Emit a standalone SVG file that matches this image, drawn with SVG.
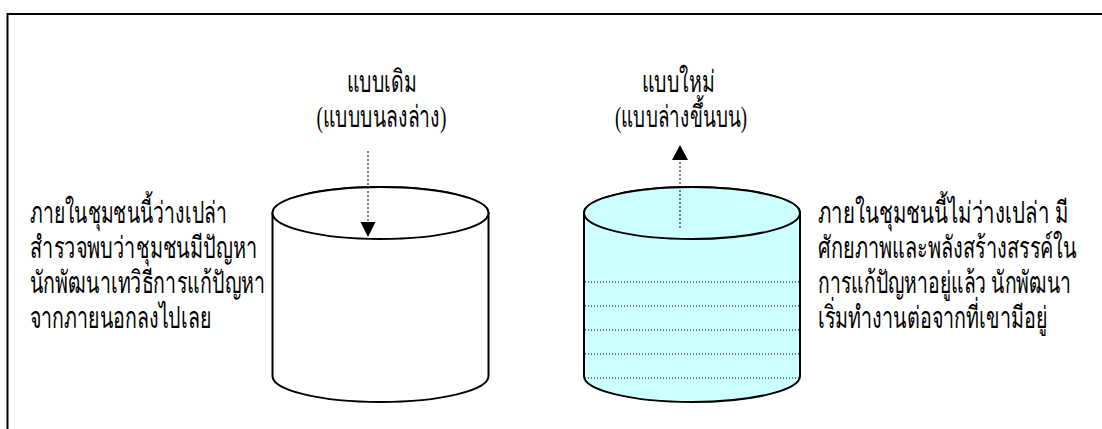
<svg xmlns="http://www.w3.org/2000/svg" width="1102" height="429" viewBox="0 0 1102 429">
<style>
.t{font-family:"Liberation Serif","Noto Sans",serif;font-size:21px;fill:#000}
.cyl{stroke:#000;stroke-width:2}
.dot{stroke:#000;stroke-width:1;stroke-dasharray:1 2;fill:none}
</style>
<rect x="0" y="0" width="1102" height="429" fill="#fff"/>
<rect x="7.5" y="14" width="1110" height="430" fill="none" stroke="#000" stroke-width="2"/>
<g id="old-model">
<path class="cyl" fill="#fff" d="M272.5,213 L272.5,376 A108,26 0 0 0 488.5,376 L488.5,213 A108,26 0 0 0 272.5,213 Z"/>
<ellipse class="cyl" fill="#fff" cx="380.5" cy="213" rx="108" ry="26"/>
<text class="t" transform="translate(346.5,92) scale(1,1.45)" textLength="70" lengthAdjust="spacingAndGlyphs">แบบเดิม</text>
<text class="t" transform="translate(316.5,127) scale(1,1.45)" textLength="130" lengthAdjust="spacingAndGlyphs">(แบบบนลงล่าง)</text>
</g>
<g id="new-model">
<path class="cyl" fill="#ccffff" d="M584,213 L584,376 A108,26 0 0 0 800,376 L800,213 A108,26 0 0 0 584,213 Z"/>
<ellipse class="cyl" fill="#ccffff" cx="692" cy="213" rx="108" ry="26"/>
<line class="dot" x1="585" y1="282" x2="799" y2="282"/>
<line class="dot" x1="585" y1="306" x2="799" y2="306"/>
<line class="dot" x1="585" y1="330" x2="799" y2="330"/>
<line class="dot" x1="585" y1="354" x2="799" y2="354"/>
<line class="dot" x1="585" y1="378" x2="799" y2="378"/>
<text class="t" transform="translate(641.5,92) scale(1,1.45)" textLength="73" lengthAdjust="spacingAndGlyphs">แบบใหม่</text>
<text class="t" transform="translate(615,127) scale(1,1.45)" textLength="132" lengthAdjust="spacingAndGlyphs">(แบบล่างขึ้นบน)</text>
</g>
<g id="left-text">
<text class="t" transform="translate(30,223) scale(1,1.45)" textLength="197" lengthAdjust="spacingAndGlyphs">ภายในชุมชนนี้ว่างเปล่า</text>
<text class="t" transform="translate(30,258) scale(1,1.45)" textLength="227" lengthAdjust="spacingAndGlyphs">สำรวจพบว่าชุมชนมีปัญหา</text>
<text class="t" transform="translate(30,293) scale(1,1.45)" textLength="235" lengthAdjust="spacingAndGlyphs">นักพัฒนาเทวิธีการแก้ปัญหา</text>
<text class="t" transform="translate(30,328) scale(1,1.45)" textLength="181" lengthAdjust="spacingAndGlyphs">จากภายนอกลงไปเลย</text>
</g>
<g id="right-text">
<text class="t" transform="translate(818,223) scale(1,1.45)" textLength="250" lengthAdjust="spacingAndGlyphs">ภายในชุมชนนี้ไม่ว่างเปล่า มี</text>
<text class="t" transform="translate(818,258) scale(1,1.45)" textLength="259" lengthAdjust="spacingAndGlyphs">ศักยภาพและพลังสร้างสรรค์ใน</text>
<text class="t" transform="translate(818,293) scale(1,1.45)" textLength="253" lengthAdjust="spacingAndGlyphs">การแก้ปัญหาอยู่แล้ว นักพัฒนา</text>
<text class="t" transform="translate(818,328) scale(1,1.45)" textLength="229" lengthAdjust="spacingAndGlyphs">เริ่มทำงานต่อจากที่เขามีอยู่</text>
</g>
<g id="connectors">
<line x1="368" y1="151" x2="368" y2="223" stroke="#000" stroke-width="1" stroke-dasharray="2 2"/>
<polygon points="360.5,222 375.5,222 368,237" fill="#000"/>
<line x1="680" y1="228" x2="680" y2="159" stroke="#000" stroke-width="1" stroke-dasharray="2 2"/>
<polygon points="672,160 688,160 680,145" fill="#000"/>
</g>
</svg>
